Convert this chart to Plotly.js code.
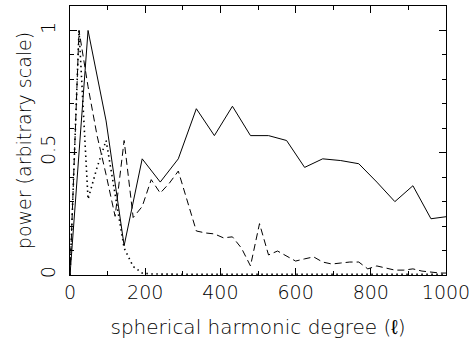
<!DOCTYPE html>
<html>
<head>
<meta charset="utf-8">
<script src="https://cdn.plot.ly/plotly-3.0.1.min.js"></script>
<style>html,body{margin:0;padding:0;background:#fff;}</style>
</head>
<body>
<div id="chart" style="width:473px;height:348px;"></div>
<script>
// degree samples, coarse (solid curve)
const degCoarse = [0,48,96,144,192,240,288,336,384,432,480,528,576,624,672,720,768,816,864,912,960,1008];
const powerSolid = [0,1.0,0.63,0.12,0.475,0.38,0.475,0.68,0.57,0.69,0.57,0.57,0.55,0.44,0.475,0.468,0.455,0.38,0.30,0.365,0.23,0.24];

// degree samples, fine (dashed and dotted curves)
const degFine = [0,24,48,72,96,120,144,168,192,216,240,264,288,312,336,360,384,408,432,456,480,504,528,552,576,600,624,648,672,696,720,744,768,792,816,840,864,888,912,936,960,984,1008];
const powerDashed = [0,1.0,0.77,0.57,0.41,0.24,0.55,0.235,0.28,0.39,0.335,0.375,0.425,0.30,0.18,0.172,0.168,0.152,0.156,0.11,0.037,0.21,0.082,0.098,0.078,0.057,0.066,0.074,0.053,0.045,0.049,0.053,0.053,0.025,0.037,0.029,0.02,0.02,0.025,0.016,0.012,0.008,0.008];
const powerDotted = [0,1.0,0.31,0.44,0.55,0.33,0.11,0.035,0.008,0.004,0.003,0.003,0.003,0.003,0.003,0.003,0.003,0.003,0.003,0.003,0.003,0.003,0.003,0.003,0.003,0.003,0.003,0.003,0.003,0.003,0.003,0.003,0.003,0.003,0.003,0.003,0.003,0.003,0.003,0.003,0.003,0.003,0.003];

const xTickVals = [0,200,400,600,800,1000];
const xTickText = ['0','200','400','600','800','1000'];
const yTickVals = [0,0.5,1];
const yTickText = ['0','0.5','1'];

const FONT = 'DejaVu Sans, Liberation Sans, sans-serif';

const traces = [
  {x: degCoarse, y: powerSolid, mode: 'lines', line: {color: '#000', width: 1}},
  {x: degFine, y: powerDashed, mode: 'lines', line: {color: '#000', width: 1, dash: '7px,4px'}},
  {x: degFine, y: powerDotted, mode: 'lines', line: {color: '#000', width: 1.6, dash: '1.5px,3.5px'}}
];

const layout = {
  width: 473, height: 348,
  margin: {l: 70, r: 27, t: 6, b: 73},
  paper_bgcolor: '#fff', plot_bgcolor: '#fff',
  showlegend: false,
  font: {family: FONT, color: '#000', size: 19, weight: 300},
  xaxis: {
    range: [0, 1000],
    tickvals: xTickVals, ticktext: xTickText,
    ticks: 'inside', ticklen: 7, tickwidth: 1, tickcolor: '#000',
    minor: {dtick: 100, tick0: 0, ticks: 'inside', ticklen: 4, tickwidth: 1, tickcolor: '#000', showgrid: false},
    showline: true, linecolor: '#000', linewidth: 1, mirror: 'allticks',
    showgrid: false, zeroline: false,
    tickfont: {family: FONT, size: 19, color: '#000', weight: 300},
    title: {text: 'spherical harmonic degree (ℓ)', font: {family: FONT, size: 20, color: '#000', weight: 300}, standoff: 18}
  },
  yaxis: {
    range: [0, 1.1],
    tickvals: yTickVals, ticktext: yTickText, tickangle: -90,
    ticks: 'inside', ticklen: 7, tickwidth: 1, tickcolor: '#000',
    minor: {dtick: 0.1, tick0: 0, ticks: 'inside', ticklen: 4, tickwidth: 1, tickcolor: '#000', showgrid: false},
    showline: true, linecolor: '#000', linewidth: 1, mirror: 'allticks',
    showgrid: false, zeroline: false,
    ticklabelstandoff: 6,
    tickfont: {family: FONT, size: 19, color: '#000', weight: 300},
    title: {text: 'power (arbitrary scale)', font: {family: FONT, size: 19, color: '#000', weight: 300}, standoff: 0}
  }
};

Plotly.newPlot('chart', traces, layout, {staticPlot: true, displayModeBar: false});
</script>
</body>
</html>
